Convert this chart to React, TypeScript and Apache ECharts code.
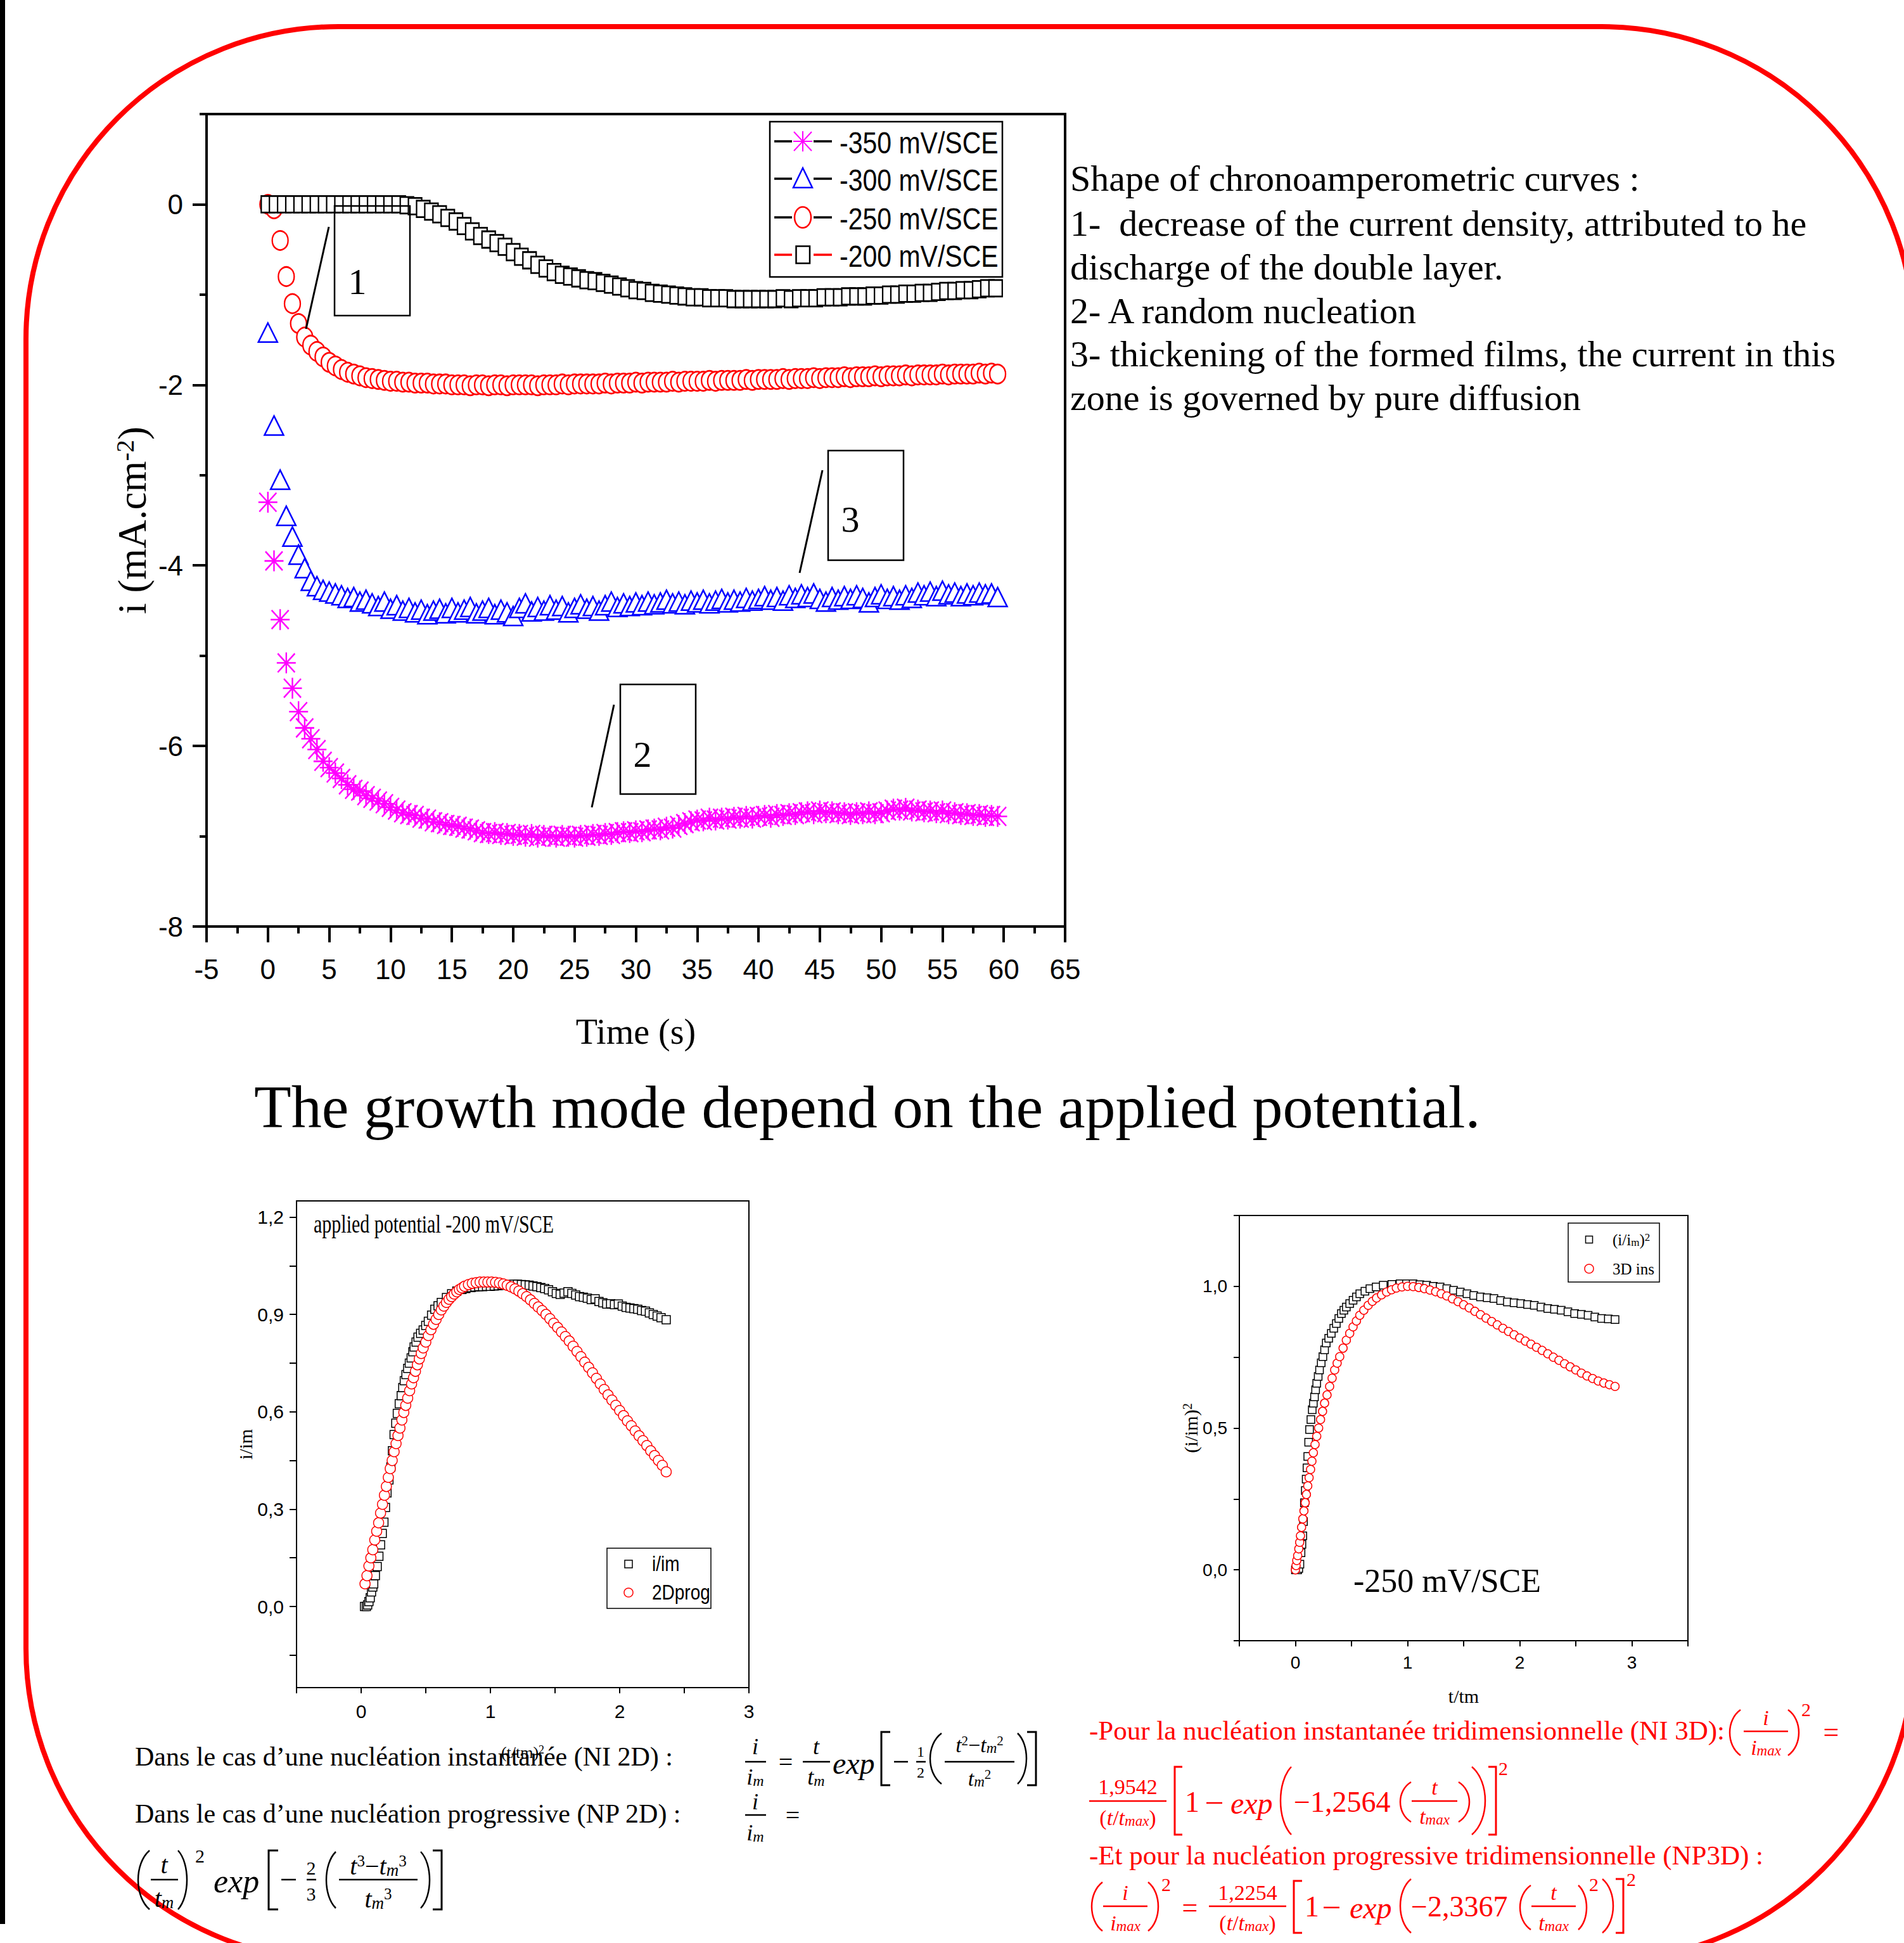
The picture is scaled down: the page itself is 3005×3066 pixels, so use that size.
import React, { useEffect, useRef } from 'react';
import * as echarts from 'echarts';

const SERIF = "'Liberation Serif', 'Times New Roman', serif";
const SANS = "'Liberation Sans', Arial, sans-serif";
const NARROW = "'Liberation Sans Narrow', 'Arial Narrow', 'Liberation Sans', Arial, sans-serif";
const RED = '#ff0000';

// ---------------- main chronoamperometric chart ----------------
const MAIN_LEGEND = ['-350 mV/SCE', '-300 mV/SCE', '-250 mV/SCE', '-200 mV/SCE'];
const STEP = 0.5; // s, sampling of -350/-300/-250 mV curves
const STEP_200 = 2 / 3; // s, sampling of -200 mV curve
const I_350 = [
  -3.30, -3.95, -4.60, -5.08, -5.36, -5.62, -5.80, -5.92, -6.04, -6.17,
  -6.24, -6.30, -6.36, -6.43, -6.48, -6.50, -6.55, -6.58, -6.61, -6.64,
  -6.68, -6.71, -6.74, -6.76, -6.77, -6.80, -6.81, -6.84, -6.85, -6.87,
  -6.88, -6.89, -6.91, -6.92, -6.94, -6.96, -6.97, -6.96, -6.98, -6.97,
  -6.99, -6.98, -7.00, -6.98, -7.01, -6.99, -7.00, -7.01, -6.99, -7.00,
  -7.01, -6.99, -7.00, -6.98, -6.99, -6.97, -6.98, -6.96, -6.95, -6.96,
  -6.94, -6.95, -6.93, -6.92, -6.93, -6.90, -6.91, -6.88, -6.86, -6.84,
  -6.82, -6.83, -6.80, -6.82, -6.80, -6.81, -6.79, -6.80, -6.78, -6.80,
  -6.78, -6.77, -6.79, -6.76, -6.77, -6.75, -6.76, -6.74, -6.73, -6.75,
  -6.72, -6.74, -6.73, -6.75, -6.74, -6.76, -6.74, -6.75, -6.73, -6.75,
  -6.74, -6.72, -6.70, -6.71, -6.69, -6.72, -6.71, -6.73, -6.72, -6.74,
  -6.72, -6.75, -6.74, -6.76, -6.75, -6.77, -6.76, -6.78, -6.77, -6.78,
];
const I_300 = [
  -1.42, -2.45, -3.05, -3.45, -3.68, -3.88, -4.03, -4.17, -4.23, -4.27,
  -4.29, -4.31, -4.33, -4.36, -4.35, -4.40, -4.38, -4.42, -4.45, -4.40,
  -4.48, -4.44, -4.50, -4.47, -4.52, -4.49, -4.54, -4.50, -4.48, -4.53,
  -4.47, -4.52, -4.49, -4.46, -4.53, -4.50, -4.47, -4.54, -4.49, -4.52,
  -4.56, -4.47, -4.42, -4.51, -4.46, -4.50, -4.44, -4.49, -4.45, -4.52,
  -4.47, -4.43, -4.48, -4.45, -4.50, -4.44, -4.40, -4.46, -4.42, -4.45,
  -4.41, -4.44, -4.40, -4.43, -4.41, -4.38, -4.42, -4.40, -4.43, -4.39,
  -4.41, -4.38, -4.42, -4.39, -4.37, -4.41, -4.38, -4.40, -4.36, -4.39,
  -4.37, -4.34, -4.38, -4.35, -4.39, -4.33, -4.36, -4.32, -4.35, -4.31,
  -4.37, -4.40, -4.35, -4.38, -4.34, -4.37, -4.33, -4.36, -4.41, -4.35,
  -4.32, -4.37, -4.34, -4.38, -4.33, -4.36, -4.30, -4.33, -4.29, -4.34,
  -4.28, -4.32, -4.30, -4.34, -4.31, -4.33, -4.30, -4.32, -4.31, -4.35,
];
const I_250 = [
  0.00, -0.05, -0.40, -0.80, -1.10, -1.32, -1.47, -1.56, -1.63, -1.69,
  -1.75, -1.79, -1.83, -1.86, -1.88, -1.90, -1.92, -1.93, -1.94, -1.95,
  -1.96, -1.96, -1.97, -1.97, -1.98, -1.98, -1.98, -1.99, -1.99, -1.99,
  -2.00, -2.00, -2.00, -2.01, -2.00, -2.00, -2.01, -2.00, -2.00, -2.01,
  -2.00, -2.00, -2.00, -2.00, -2.01, -2.00, -2.00, -2.00, -1.99, -2.00,
  -1.99, -1.99, -1.99, -1.99, -1.99, -1.98, -1.99, -1.98, -1.98, -1.98,
  -1.97, -1.98, -1.97, -1.97, -1.97, -1.97, -1.96, -1.97, -1.96, -1.96,
  -1.96, -1.96, -1.95, -1.96, -1.95, -1.95, -1.95, -1.95, -1.94, -1.95,
  -1.94, -1.94, -1.94, -1.94, -1.93, -1.94, -1.93, -1.93, -1.93, -1.92,
  -1.93, -1.92, -1.92, -1.92, -1.91, -1.92, -1.91, -1.91, -1.91, -1.90,
  -1.91, -1.90, -1.90, -1.90, -1.89, -1.90, -1.89, -1.89, -1.89, -1.89,
  -1.88, -1.89, -1.88, -1.88, -1.88, -1.88, -1.87, -1.88, -1.87, -1.88,
];
const I_200 = [
  0, 0, 0, 0, 0, 0, 0, 0, 0, 0,
  0, 0, 0, 0, 0, 0, 0, -0.01, -0.02, -0.05,
  -0.08, -0.11, -0.15, -0.19, -0.24, -0.30, -0.35, -0.39, -0.43, -0.47,
  -0.53, -0.58, -0.62, -0.67, -0.71, -0.75, -0.78, -0.80, -0.82, -0.84,
  -0.85, -0.87, -0.89, -0.91, -0.93, -0.95, -0.96, -0.98, -0.99, -1.00,
  -1.01, -1.02, -1.03, -1.03, -1.04, -1.04, -1.04, -1.05, -1.05, -1.05,
  -1.05, -1.05, -1.05, -1.04, -1.05, -1.04, -1.04, -1.04, -1.03, -1.03,
  -1.03, -1.02, -1.02, -1.02, -1.01, -1.01, -1.00, -1.00, -0.99, -0.99,
  -0.98, -0.98, -0.97, -0.96, -0.96, -0.95, -0.95, -0.94, -0.93, -0.93,
];
const MAIN_Y_MAJOR = [-8, -6, -4, -2, 0];
const MAIN_Y_MINOR = [-7, -5, -3, -1, 1];

// ---------------- bottom-left: -200 mV/SCE vs 2D progressive ----------------
const BL_LEGEND = ['i/im', '2Dprog'];
const BL_X_TICKS = [-0.5, 0, 0.5, 1, 1.5, 2, 2.5, 3];
const BL_X_LABELS = [0, 1, 2, 3];
const BL_Y_TICKS = [-0.15, 0, 0.15, 0.3, 0.45, 0.6, 0.75, 0.9, 1.05, 1.2];
const BL_Y_LABELS = [0, 0.3, 0.6, 0.9, 1.2];
const BL_EXP = [
  [0.026, 0], [0.04, 0], [0.05, 0.005], [0.06, 0.015], [0.07, 0.027], [0.08, 0.045], [0.09, 0.06],
  [0.097, 0.07], [0.11, 0.095], [0.124, 0.123], [0.137, 0.155], [0.15, 0.19], [0.163, 0.225],
  [0.176, 0.26], [0.188, 0.305], [0.2, 0.35], [0.215, 0.39], [0.23, 0.43], [0.242, 0.48],
  [0.255, 0.53], [0.268, 0.565], [0.28, 0.595], [0.295, 0.625], [0.31, 0.65], [0.322, 0.675],
  [0.334, 0.696], [0.347, 0.715], [0.36, 0.734], [0.373, 0.75], [0.387, 0.766], [0.4, 0.785],
  [0.41, 0.8], [0.425, 0.815], [0.44, 0.83], [0.46, 0.842], [0.48, 0.852], [0.5, 0.866],
  [0.52, 0.879], [0.545, 0.898], [0.57, 0.916], [0.595, 0.927], [0.62, 0.937], [0.66, 0.952],
  [0.7, 0.964], [0.74, 0.972], [0.78, 0.977], [0.81, 0.98], [0.85, 0.983], [0.88, 0.985],
  [0.91, 0.986], [0.94, 0.986], [0.97, 0.987], [1.0, 0.987], [1.03, 0.988], [1.06, 0.989],
  [1.09, 0.99], [1.12, 0.99], [1.15, 0.992], [1.18, 0.993], [1.21, 0.993], [1.24, 0.992],
  [1.27, 0.991], [1.3, 0.99], [1.33, 0.988], [1.36, 0.986], [1.39, 0.983], [1.42, 0.98],
  [1.45, 0.976], [1.48, 0.97], [1.51, 0.965], [1.54, 0.962], [1.57, 0.966], [1.6, 0.97],
  [1.63, 0.965], [1.66, 0.96], [1.69, 0.955], [1.72, 0.953], [1.75, 0.95], [1.78, 0.946],
  [1.81, 0.948], [1.84, 0.94], [1.87, 0.936], [1.9, 0.932], [1.93, 0.933], [1.96, 0.93],
  [1.99, 0.932], [2.02, 0.926], [2.05, 0.922], [2.08, 0.92], [2.11, 0.918], [2.14, 0.916],
  [2.17, 0.912], [2.2, 0.91], [2.23, 0.905], [2.26, 0.9], [2.29, 0.895], [2.32, 0.89], [2.36, 0.884],
];
const BL_FIT = [
  [0.03, 0.07], [0.045, 0.095], [0.06, 0.125], [0.075, 0.15], [0.09, 0.175], [0.105, 0.205],
  [0.12, 0.232], [0.135, 0.258], [0.15, 0.288], [0.165, 0.315], [0.18, 0.343], [0.195, 0.37],
  [0.21, 0.398], [0.225, 0.425], [0.24, 0.45], [0.255, 0.477], [0.27, 0.502], [0.285, 0.527],
  [0.3, 0.55], [0.315, 0.575], [0.33, 0.598], [0.345, 0.62], [0.36, 0.642], [0.375, 0.665],
  [0.39, 0.686], [0.405, 0.705], [0.42, 0.725], [0.435, 0.745], [0.45, 0.763], [0.465, 0.78],
  [0.48, 0.797], [0.5, 0.815], [0.52, 0.835], [0.54, 0.853], [0.56, 0.87], [0.58, 0.885],
  [0.6, 0.9], [0.62, 0.914], [0.64, 0.926], [0.66, 0.937], [0.68, 0.947], [0.7, 0.955],
  [0.72, 0.963], [0.74, 0.97], [0.76, 0.977], [0.78, 0.982], [0.8, 0.987], [0.83, 0.992],
  [0.86, 0.996], [0.89, 0.998], [0.92, 1.0], [0.95, 1.0], [0.98, 1.0], [1.01, 1.0],
  [1.04, 0.999], [1.07, 0.997], [1.1, 0.994], [1.13, 0.99], [1.16, 0.985], [1.19, 0.979],
  [1.22, 0.972], [1.25, 0.964], [1.28, 0.955], [1.31, 0.945], [1.34, 0.934], [1.37, 0.923],
  [1.4, 0.912], [1.43, 0.9], [1.46, 0.887], [1.49, 0.873], [1.52, 0.86], [1.55, 0.846],
  [1.58, 0.832], [1.61, 0.818], [1.64, 0.802], [1.67, 0.786], [1.7, 0.77], [1.73, 0.753],
  [1.76, 0.737], [1.79, 0.72], [1.82, 0.703], [1.85, 0.686], [1.88, 0.669], [1.91, 0.652],
  [1.94, 0.636], [1.97, 0.62], [2.0, 0.604], [2.03, 0.588], [2.06, 0.572], [2.09, 0.557],
  [2.12, 0.541], [2.15, 0.526], [2.18, 0.511], [2.21, 0.496], [2.24, 0.48], [2.27, 0.465],
  [2.3, 0.45], [2.33, 0.435], [2.36, 0.415],
];

// ---------------- bottom-right: -250 mV/SCE vs 3D instantaneous ----------------
const BR_X_TICKS = [-0.5, 0, 0.5, 1, 1.5, 2, 2.5, 3, 3.5];
const BR_X_LABELS = [0, 1, 2, 3];
const BR_Y_TICKS = [-0.25, 0, 0.25, 0.5, 0.75, 1, 1.25];
const BR_Y_LABELS = [0, 0.5, 1];
const BR_EXP = [
  [0, 0], [0.01, 0], [0.02, 0], [0.03, 0.005], [0.04, 0.02], [0.05, 0.06], [0.058, 0.09],
  [0.066, 0.12], [0.072, 0.17], [0.08, 0.237], [0.088, 0.28], [0.096, 0.32], [0.103, 0.36],
  [0.11, 0.4], [0.118, 0.45], [0.126, 0.495], [0.138, 0.53], [0.15, 0.565], [0.16, 0.588],
  [0.17, 0.61], [0.18, 0.635], [0.19, 0.658], [0.203, 0.682], [0.215, 0.705], [0.23, 0.73],
  [0.245, 0.752], [0.26, 0.776], [0.275, 0.8], [0.297, 0.817], [0.32, 0.834], [0.342, 0.852],
  [0.365, 0.869], [0.387, 0.887], [0.41, 0.904], [0.432, 0.916], [0.454, 0.927], [0.484, 0.939],
  [0.514, 0.951], [0.544, 0.963], [0.574, 0.974], [0.62, 0.983], [0.664, 0.992], [0.72, 0.998],
  [0.783, 1.004], [0.86, 1.007], [0.933, 1.009], [0.99, 1.009], [1.05, 1.009], [1.11, 1.006],
  [1.17, 1.004], [1.23, 1.0], [1.29, 0.998], [1.35, 0.992], [1.41, 0.986], [1.47, 0.98],
  [1.53, 0.974], [1.59, 0.968], [1.65, 0.963], [1.71, 0.96], [1.77, 0.957], [1.83, 0.95],
  [1.89, 0.945], [1.95, 0.942], [2.01, 0.939], [2.07, 0.936], [2.13, 0.933], [2.19, 0.927],
  [2.25, 0.922], [2.31, 0.919], [2.37, 0.916], [2.43, 0.91], [2.49, 0.904], [2.55, 0.901],
  [2.61, 0.898], [2.67, 0.892], [2.73, 0.887], [2.79, 0.885], [2.85, 0.883],
];
const BR_FIT = [
  [0, 0], [0.006, 0.015], [0.012, 0.033], [0.02, 0.05], [0.03, 0.074], [0.038, 0.097],
  [0.045, 0.12], [0.055, 0.15], [0.066, 0.18], [0.076, 0.208], [0.087, 0.237], [0.098, 0.266],
  [0.11, 0.296], [0.122, 0.325], [0.135, 0.354], [0.147, 0.383], [0.16, 0.413], [0.175, 0.442],
  [0.19, 0.471], [0.207, 0.5], [0.224, 0.53], [0.242, 0.559], [0.26, 0.588], [0.282, 0.617],
  [0.305, 0.647], [0.327, 0.676], [0.35, 0.705], [0.372, 0.729], [0.395, 0.752], [0.425, 0.782],
  [0.454, 0.81], [0.484, 0.834], [0.514, 0.857], [0.544, 0.878], [0.574, 0.898], [0.61, 0.916],
  [0.649, 0.933], [0.686, 0.947], [0.723, 0.959], [0.768, 0.97], [0.813, 0.98], [0.857, 0.988],
  [0.9, 0.994], [0.95, 0.998], [1.0, 1.0], [1.05, 0.999], [1.1, 0.996], [1.15, 0.992],
  [1.2, 0.987], [1.25, 0.981], [1.3, 0.974], [1.35, 0.966], [1.4, 0.956], [1.45, 0.946],
  [1.5, 0.935], [1.55, 0.924], [1.6, 0.912], [1.65, 0.9], [1.7, 0.888], [1.75, 0.876],
  [1.8, 0.864], [1.85, 0.852], [1.9, 0.841], [1.95, 0.829], [2.0, 0.818], [2.05, 0.807],
  [2.1, 0.796], [2.15, 0.785], [2.2, 0.774], [2.25, 0.762], [2.3, 0.75], [2.35, 0.739],
  [2.4, 0.727], [2.45, 0.716], [2.5, 0.705], [2.55, 0.694], [2.6, 0.684], [2.65, 0.675],
  [2.7, 0.666], [2.75, 0.659], [2.8, 0.653], [2.85, 0.647],
];

// ---------------- texts ----------------
const RIGHT_TEXT = [
  'Shape of chronoamperometric curves :',
  '1-  decrease of the current density, attributed to he',
  'discharge of the double layer.',
  '2- A random nucleation',
  '3- thickening of the formed films, the current in this',
  'zone is governed by pure diffusion',
];
const TITLE = 'The growth mode depend on the applied potential.';

// ---------------- graphic helpers ----------------
const Z = 100;
function txt(x: number, y: number, text: string, size: number, o: any = {}) {
  return {
    type: 'text', x, y, z: o.z ?? Z, silent: true,
    scaleX: o.sx ?? 1, scaleY: o.sy ?? 1,
    style: {
      text, fill: o.c ?? '#000', fontSize: size, fontFamily: o.ff ?? SERIF,
      fontStyle: o.it ? 'italic' : 'normal', align: o.al ?? 'left', verticalAlign: o.va ?? 'middle',
      rich: o.rich,
    },
  };
}
function seg(x1: number, y1: number, x2: number, y2: number, c: string, w = 2.5) {
  return { type: 'line', z: Z, silent: true, shape: { x1, y1, x2, y2 }, style: { stroke: c, lineWidth: w } };
}
function lparen(x1: number, x2: number, y1: number, y2: number, c: string, w = 2.5) {
  const d = x2 - x1;
  const h = y2 - y1;
  const cp = x1 - d / 3;
  return { type: 'bezierCurve', z: Z, silent: true,
    shape: { x1: x2, y1, x2: x2, y2, cpx1: cp, cpy1: y1 + h * 0.22, cpx2: cp, cpy2: y2 - h * 0.22 },
    style: { stroke: c, lineWidth: w, fill: 'none' } };
}
function rparen(x1: number, x2: number, y1: number, y2: number, c: string, w = 2.5) {
  const d = x2 - x1;
  const h = y2 - y1;
  const cp = x2 + d / 3;
  return { type: 'bezierCurve', z: Z, silent: true,
    shape: { x1, y1, x2: x1, y2, cpx1: cp, cpy1: y1 + h * 0.22, cpx2: cp, cpy2: y2 - h * 0.22 },
    style: { stroke: c, lineWidth: w, fill: 'none' } };
}
function lbrack(x1: number, x2: number, y1: number, y2: number, c: string, w = 3) {
  return { type: 'polyline', z: Z, silent: true, shape: { points: [[x2, y1], [x1, y1], [x1, y2], [x2, y2]] }, style: { stroke: c, lineWidth: w, fill: 'none' } };
}
function rbrack(x1: number, x2: number, y1: number, y2: number, c: string, w = 3) {
  return { type: 'polyline', z: Z, silent: true, shape: { points: [[x1, y1], [x2, y1], [x2, y2], [x1, y2]] }, style: { stroke: c, lineWidth: w, fill: 'none' } };
}
function richMath(s: number, c: string) {
  return {
    v: { fontSize: s, fontStyle: 'italic', fontFamily: SERIF, fill: c },
    n: { fontSize: s, fontFamily: SERIF, fill: c },
    s: { fontSize: Math.round(s * 0.68), fontStyle: 'italic', fontFamily: SERIF, fill: c, verticalAlign: 'bottom' },
    p: { fontSize: Math.round(s * 0.62), fontFamily: SERIF, fill: c, verticalAlign: 'top' },
  };
}
function mtext(x: number, y: number, text: string, size: number, c: string, al = 'center') {
  return txt(x, y, text, size, { c, al, rich: richMath(size, c) });
}
function frac(cx: number, xa: number, xb: number, yBar: number, yNum: number, yDen: number, num: string, den: string, size: number, c: string) {
  return [mtext(cx, yNum, num, size, c), seg(xa, yBar, xb, yBar, c, 2.5), mtext(cx, yDen, den, size, c)];
}

function buildGraphics() {
  const g: any[] = [];
  // page frame
  g.push({ type: 'rect', z: 1, silent: true, shape: { x: 0, y: 0, width: 8, height: 3036 }, style: { fill: '#000' } });
  g.push({ type: 'rect', z: 1, silent: true, shape: { x: 41, y: 42, width: 2980, height: 3052, r: 493 }, style: { fill: 'none', stroke: RED, lineWidth: 8 } });

  // main legend
  g.push({ type: 'rect', z: Z, silent: true, shape: { x: 1215, y: 192, width: 367, height: 245 }, style: { fill: '#fff', stroke: '#000', lineWidth: 2.5 } });
  const rows = [223, 282, 343, 402];
  rows.forEach((ry, i) => {
    const lc = i === 3 ? RED : '#000';
    g.push(seg(1222, ry, 1250, ry, lc, 3.5));
    g.push(seg(1284, ry, 1313, ry, lc, 3.5));
    g.push(txt(1325, ry + 2, MAIN_LEGEND[i], 41, { ff: SANS, sy: 1.15 }));
  });
  const m = '#ff00ff';
  g.push(seg(1267, 207, 1267, 239, m, 2));
  g.push(seg(1252, 223, 1282, 223, m, 2));
  g.push(seg(1253, 208, 1281, 238, m, 2));
  g.push(seg(1253, 238, 1281, 208, m, 2));
  g.push({ type: 'polygon', z: Z, silent: true, shape: { points: [[1252, 296], [1282, 296], [1267, 265]] }, style: { fill: '#fff', stroke: '#0000ff', lineWidth: 2.5 } });
  g.push({ type: 'ellipse', z: Z, silent: true, shape: { cx: 1267, cy: 343, rx: 13, ry: 16.5 }, style: { fill: '#fff', stroke: RED, lineWidth: 2.5 } });
  g.push({ type: 'rect', z: Z, silent: true, shape: { x: 1256.5, y: 388.5, width: 21.5, height: 27 }, style: { fill: '#fff', stroke: '#000', lineWidth: 2.5 } });

  // annotation boxes 1, 2, 3
  const boxes = [
    { x: 528, y: 325, t: '1', tx: 564, ty: 444, l: [519, 358, 483, 519] },
    { x: 979, y: 1080, t: '2', tx: 1014, ty: 1190, l: [969, 1112, 934, 1274] },
    { x: 1307, y: 711, t: '3', tx: 1342, ty: 819, l: [1298, 742, 1262, 904] },
  ];
  boxes.forEach((b) => {
    g.push({ type: 'rect', z: Z, silent: true, shape: { x: b.x, y: b.y, width: 119, height: 173 }, style: { fill: 'none', stroke: '#000', lineWidth: 2.5 } });
    g.push(txt(b.tx, b.ty, b.t, 58, { al: 'center' }));
    g.push(seg(b.l[0], b.l[1], b.l[2], b.l[3], '#000', 3));
  });

  // right explanatory text
  const ys = [281, 352, 421, 490, 558, 627];
  RIGHT_TEXT.forEach((t, i) => g.push(txt(1689, ys[i], t, 58)));

  // title
  g.push(txt(401, 1746, TITLE, 96));

  // bottom-left chart inner texts & legend
  g.push(txt(495, 1932, 'applied potential -200 mV/SCE', 30, { sy: 1.3 }));
  g.push({ type: 'rect', z: Z, silent: true, shape: { x: 958, y: 2443, width: 164, height: 95 }, style: { fill: '#fff', stroke: '#000', lineWidth: 1.5 } });
  g.push({ type: 'rect', z: Z, silent: true, shape: { x: 986, y: 2462, width: 12, height: 12 }, style: { fill: '#fff', stroke: '#000', lineWidth: 1.5 } });
  g.push({ type: 'circle', z: Z, silent: true, shape: { cx: 992, cy: 2513, r: 7 }, style: { fill: '#fff', stroke: RED, lineWidth: 1.5 } });
  g.push(txt(1029, 2468, BL_LEGEND[0], 28, { ff: NARROW, sy: 1.2 }));
  g.push(txt(1029, 2513, BL_LEGEND[1], 28, { ff: NARROW, sy: 1.2 }));

  // bottom-right chart inner texts & legend
  g.push(txt(2136, 2494, '-250 mV/SCE', 52));
  g.push({ type: 'rect', z: Z, silent: true, shape: { x: 2475, y: 1930, width: 144, height: 93 }, style: { fill: '#fff', stroke: '#000', lineWidth: 1.5 } });
  g.push({ type: 'rect', z: Z, silent: true, shape: { x: 2502.5, y: 1950.5, width: 11, height: 11 }, style: { fill: '#fff', stroke: '#000', lineWidth: 1.5 } });
  g.push({ type: 'circle', z: Z, silent: true, shape: { cx: 2508, cy: 2002, r: 7 }, style: { fill: '#fff', stroke: RED, lineWidth: 1.5 } });
  g.push(txt(2545, 1956, '(i/i{s|m}){p|2}', 25, { rich: { s: { fontSize: 17, fontFamily: SERIF, verticalAlign: 'bottom' }, p: { fontSize: 17, fontFamily: SERIF, verticalAlign: 'top' } } }));
  g.push(txt(2545, 2002, '3D ins', 25));

  // black formulas (2D)
  const k = '#000';
  g.push(txt(213, 2772, 'Dans le cas d\u2019une nucléation instantanée (NI 2D) :', 42));
  g.push(txt(213, 2862, 'Dans le cas d\u2019une nucléation progressive (NP 2D) :', 42));
  g.push(...frac(1192, 1176, 1209, 2780, 2756, 2804, '{v|i}', '{v|i}{s|m}', 36, k));
  g.push(txt(1240, 2780, '=', 40, { al: 'center' }));
  g.push(...frac(1288, 1267, 1310, 2780, 2756, 2804, '{v|t}', '{v|t}{s|m}', 36, k));
  g.push(txt(1314, 2782, 'exp', 48, { it: true }));
  g.push(lbrack(1391, 1405, 2733, 2817, k));
  g.push(seg(1411, 2780, 1433, 2780, k, 2.5));
  g.push(...frac(1453, 1446, 1461, 2780, 2764, 2797, '{n|1}', '{n|2}', 24, k));
  g.push(lparen(1468, 1486, 2735, 2815, k));
  g.push(...frac(1546, 1491, 1601, 2780, 2753, 2806, '{v|t}{p|2}{n|\u2212}{v|t}{s|m}{p|2}', '{v|t}{s|m}{p|2}', 34, k));
  g.push(rparen(1606, 1620, 2735, 2815, k));
  g.push(rbrack(1621, 1635, 2733, 2817, k));
  g.push(...frac(1192, 1176, 1209, 2864, 2843, 2892, '{v|i}', '{v|i}{s|m}', 36, k));
  g.push(txt(1251, 2864, '=', 40, { al: 'center' }));
  g.push(lparen(218, 236, 2920, 3013, k));
  g.push(...frac(259, 238, 281, 2966, 2942, 2995, '{v|t}', '{v|t}{s|m}', 40, k));
  g.push(rparen(281, 295, 2920, 3013, k));
  g.push(txt(308, 2928, '2', 30));
  g.push(txt(337, 2968, 'exp', 52, { it: true }));
  g.push(lbrack(424, 439, 2920, 3013, k));
  g.push(seg(444, 2966, 467, 2966, k, 2.5));
  g.push(...frac(491, 484, 499, 2966, 2947, 2988, '{n|2}', '{n|3}', 30, k));
  g.push(lparen(515, 530, 2922, 3011, k));
  g.push(...frac(597, 535, 659, 2966, 2944, 2996, '{v|t}{p|3}{n|\u2212}{v|t}{s|m}{p|3}', '{v|t}{s|m}{p|3}', 40, k));
  g.push(rparen(664, 678, 2922, 3011, k));
  g.push(rbrack(683, 697, 2920, 3013, k));

  // red formulas (3D)
  const r = RED;
  g.push(txt(1719, 2730, '-Pour la nucléation instantanée tridimensionnelle (NI 3D):', 43, { c: r }));
  g.push(lparen(2730, 2747, 2698, 2770, r));
  g.push(...frac(2787, 2752, 2822, 2732, 2710, 2757, '{v|i}', '{v|i}{s|max}', 34, r));
  g.push(rparen(2822, 2839, 2698, 2770, r));
  g.push(txt(2843, 2697, '2', 30, { c: r }));
  g.push(txt(2890, 2733, '=', 44, { c: r, al: 'center' }));

  g.push(...frac(1780, 1719, 1841, 2842, 2819, 2868, '{n|1,9542}', '{n|(}{v|t}{n|/}{v|t}{s|max}{n|)}', 34, r));
  g.push(lbrack(1854, 1866, 2788, 2895, r));
  g.push(txt(1870, 2843, '1', 46, { c: r }));
  g.push(seg(1904, 2845, 1929, 2845, r, 2.5));
  g.push(txt(1942, 2845, 'exp', 48, { c: r, it: true }));
  g.push(lparen(2021, 2038, 2788, 2895, r));
  g.push(txt(2042, 2843, '\u22121,2564', 46, { c: r }));
  g.push(lparen(2210, 2227, 2812, 2875, r));
  g.push(...frac(2264, 2228, 2300, 2842, 2820, 2866, '{v|t}', '{v|t}{s|max}', 34, r));
  g.push(rparen(2302, 2319, 2812, 2875, r));
  g.push(rparen(2323, 2344, 2788, 2895, r));
  g.push(rbrack(2349, 2361, 2788, 2895, r));
  g.push(txt(2365, 2790, '2', 30, { c: r }));

  g.push(txt(1719, 2927, '-Et pour la nucléation progressive tridimensionnelle (NP3D) :', 43, { c: r }));
  g.push(lparen(1723, 1740, 2970, 3047, r));
  g.push(...frac(1776, 1741, 1811, 3008, 2986, 3034, '{v|i}', '{v|i}{s|max}', 34, r));
  g.push(rparen(1812, 1828, 2970, 3047, r));
  g.push(txt(1833, 2973, '2', 30, { c: r }));
  g.push(txt(1878, 3010, '=', 44, { c: r, al: 'center' }));
  g.push(...frac(1969, 1908, 2030, 3008, 2986, 3034, '{n|1,2254}', '{n|(}{v|t}{n|/}{v|t}{s|max}{n|)}', 34, r));
  g.push(lbrack(2042, 2055, 2968, 3050, r));
  g.push(txt(2059, 3008, '1', 46, { c: r }));
  g.push(seg(2089, 3010, 2114, 3010, r, 2.5));
  g.push(txt(2130, 3010, 'exp', 48, { c: r, it: true }));
  g.push(lparen(2210, 2227, 2965, 3050, r));
  g.push(txt(2227, 3008, '\u22122,3367', 46, { c: r }));
  g.push(lparen(2399, 2416, 2975, 3045, r));
  g.push(...frac(2452, 2417, 2487, 3008, 2986, 3034, '{v|t}', '{v|t}{s|max}', 34, r));
  g.push(rparen(2491, 2504, 2975, 3045, r));
  g.push(txt(2508, 2973, '2', 30, { c: r }));
  g.push(rparen(2529, 2546, 2965, 3050, r));
  g.push(rbrack(2550, 2562, 2965, 3050, r));
  g.push(txt(2567, 2965, '2', 30, { c: r }));
  return g;
}

const comma = (v: number) => v.toFixed(1).replace('.', ',');

function axisBase(lw: number) {
  return {
    axisLine: { show: true, onZero: false, lineStyle: { color: '#000', width: lw } },
    splitLine: { show: false },
  };
}

function buildOption(): any {
  const ASTER = 'path://M10 0L10 20M0 10L20 10M1 1L19 19M1 19L19 1';
  const noEmph = { disabled: true };
  return {
    animation: false,
    backgroundColor: '#fff',
    grid: [
      { left: 326, top: 180, width: 1355, height: 1282, show: true, borderColor: '#000', borderWidth: 4, outerBoundsMode: 'none', containLabel: false },
      { left: 468, top: 1895, width: 714, height: 768, show: true, borderColor: '#000', borderWidth: 2, outerBoundsMode: 'none', containLabel: false },
      { left: 1956, top: 1918, width: 708, height: 671, show: true, borderColor: '#000', borderWidth: 2, outerBoundsMode: 'none', containLabel: false },
    ],
    xAxis: [
      {
        type: 'value', gridIndex: 0, min: -5, max: 65, interval: 5, ...axisBase(4),
        axisTick: { show: true, length: 25, lineStyle: { color: '#000', width: 4 } },
        minorTick: { show: true, splitNumber: 2, length: 11, lineStyle: { color: '#000', width: 4 } },
        axisLabel: { color: '#000', fontSize: 44, fontFamily: SANS, margin: 45 },
        name: 'Time (s)', nameLocation: 'middle', nameGap: 138,
        nameTextStyle: { color: '#000', fontSize: 56, fontFamily: SERIF },
      },
      {
        type: 'value', gridIndex: 1, min: -0.5, max: 3, ...axisBase(2),
        axisTick: { show: true, length: 9, customValues: BL_X_TICKS, lineStyle: { color: '#000', width: 2 } },
        axisLabel: { color: '#000', fontSize: 30, fontFamily: NARROW, margin: 22, customValues: BL_X_LABELS },
        name: '(t/tm){s|2}', nameLocation: 'middle', nameGap: 89,
        nameTextStyle: { color: '#000', fontSize: 26, fontFamily: SERIF, rich: { s: { fontSize: 18, fontFamily: SERIF, verticalAlign: 'top' } } },
      },
      {
        type: 'value', gridIndex: 2, min: -0.5, max: 3.5, ...axisBase(2),
        axisTick: { show: true, length: 9, customValues: BR_X_TICKS, lineStyle: { color: '#000', width: 2 } },
        axisLabel: { color: '#000', fontSize: 28, fontFamily: NARROW, margin: 20, customValues: BR_X_LABELS },
        name: 't/tm', nameLocation: 'middle', nameGap: 72,
        nameTextStyle: { color: '#000', fontSize: 30, fontFamily: SERIF },
      },
    ],
    yAxis: [
      {
        type: 'value', gridIndex: 0, position: 'left', min: -8, max: 1, ...axisBase(4),
        axisTick: { show: true, length: 22, customValues: MAIN_Y_MAJOR, lineStyle: { color: '#000', width: 4 } },
        axisLabel: { color: '#000', fontSize: 44, fontFamily: SANS, margin: 37, customValues: MAIN_Y_MAJOR },
        name: 'i (mA.cm{sup|-2})', nameLocation: 'middle', nameGap: 86,
        nameTextStyle: { color: '#000', fontSize: 63, fontFamily: SERIF, rich: { sup: { fontSize: 40, fontFamily: SERIF, verticalAlign: 'top' } } },
      },
      {
        type: 'value', gridIndex: 0, position: 'left', offset: 0, min: -8, max: 1,
        axisLine: { show: false, onZero: false }, splitLine: { show: false },
        axisTick: { show: true, length: 11, customValues: MAIN_Y_MINOR, lineStyle: { color: '#000', width: 4 } },
        axisLabel: { show: false },
      },
      {
        type: 'value', gridIndex: 1, min: -0.25, max: 1.25, ...axisBase(2),
        axisTick: { show: true, length: 11, customValues: BL_Y_TICKS, lineStyle: { color: '#000', width: 2 } },
        axisLabel: { color: '#000', fontSize: 30, fontFamily: NARROW, margin: 20, customValues: BL_Y_LABELS, formatter: comma },
        name: 'i/im', nameLocation: 'middle', nameGap: 58,
        nameTextStyle: { color: '#000', fontSize: 30, fontFamily: SERIF },
      },
      {
        type: 'value', gridIndex: 2, min: -0.25, max: 1.25, ...axisBase(2),
        axisTick: { show: true, length: 9, customValues: BR_Y_TICKS, lineStyle: { color: '#000', width: 2 } },
        axisLabel: { color: '#000', fontSize: 28, fontFamily: NARROW, margin: 19, customValues: BR_Y_LABELS, formatter: comma },
        name: '(i/im){s|2}', nameLocation: 'middle', nameGap: 62,
        nameTextStyle: { color: '#000', fontSize: 30, fontFamily: SERIF, rich: { s: { fontSize: 20, fontFamily: SERIF, verticalAlign: 'top' } } },
      },
    ],
    series: [
      {
        type: 'scatter', name: MAIN_LEGEND[0], xAxisIndex: 0, yAxisIndex: 0, emphasis: noEmph,
        data: I_350.map((v, i) => [i * STEP, v]), symbol: ASTER, symbolSize: [30, 33],
        itemStyle: { color: 'rgba(0,0,0,0)', borderColor: '#ff00ff', borderWidth: 2.5, opacity: 1 },
      },
      {
        type: 'scatter', name: MAIN_LEGEND[1], xAxisIndex: 0, yAxisIndex: 0, emphasis: noEmph,
        data: I_300.map((v, i) => [i * STEP, v]), symbol: 'triangle', symbolSize: [30, 30],
        itemStyle: { color: '#fff', borderColor: '#0000ff', borderWidth: 2.5, opacity: 1 },
      },
      {
        type: 'scatter', name: MAIN_LEGEND[2], xAxisIndex: 0, yAxisIndex: 0, emphasis: noEmph,
        data: I_250.map((v, i) => [i * STEP, v]), symbol: 'circle', symbolSize: [25, 30],
        itemStyle: { color: '#fff', borderColor: RED, borderWidth: 2.5, opacity: 1 },
      },
      {
        type: 'scatter', name: MAIN_LEGEND[3], xAxisIndex: 0, yAxisIndex: 0, emphasis: noEmph,
        data: I_200.map((v, i) => [i * STEP_200, v]), symbol: 'rect', symbolSize: [21, 26],
        itemStyle: { color: '#fff', borderColor: '#000', borderWidth: 2.5, opacity: 1 },
      },
      {
        type: 'scatter', name: BL_LEGEND[0], xAxisIndex: 1, yAxisIndex: 2, emphasis: noEmph,
        data: BL_EXP, symbol: 'rect', symbolSize: 13,
        itemStyle: { color: '#fff', borderColor: '#000', borderWidth: 1.5, opacity: 1 },
      },
      {
        type: 'scatter', name: BL_LEGEND[1], xAxisIndex: 1, yAxisIndex: 2, emphasis: noEmph,
        data: BL_FIT, symbol: 'circle', symbolSize: 16,
        itemStyle: { color: '#fff', borderColor: RED, borderWidth: 1.5, opacity: 1 },
      },
      {
        type: 'scatter', name: '(i/im)2', xAxisIndex: 2, yAxisIndex: 3, emphasis: noEmph,
        data: BR_EXP, symbol: 'rect', symbolSize: 12,
        itemStyle: { color: '#fff', borderColor: '#000', borderWidth: 1.5, opacity: 1 },
      },
      {
        type: 'scatter', name: '3D ins', xAxisIndex: 2, yAxisIndex: 3, emphasis: noEmph,
        data: BR_FIT, symbol: 'circle', symbolSize: 13,
        itemStyle: { color: '#fff', borderColor: RED, borderWidth: 1.5, opacity: 1 },
      },
    ],
    graphic: { elements: buildGraphics() },
  };
}

export default function App() {
  const ref = useRef<HTMLDivElement>(null);
  useEffect(() => {
    const chart = echarts.init(ref.current!, null, { renderer: 'svg', width: 3005, height: 3066 });
    chart.setOption(buildOption());
    return () => chart.dispose();
  }, []);
  return (
    <div
      ref={ref}
      style={{ position: 'absolute', left: 0, top: 0, width: 3005, height: 3066, background: '#fff' }}
    />
  );
}
